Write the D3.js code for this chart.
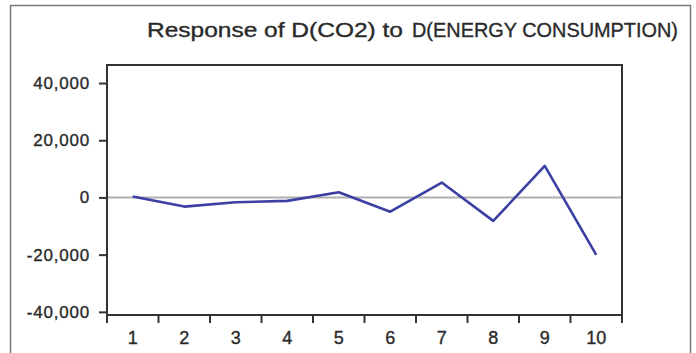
<!DOCTYPE html>
<html>
<head>
<meta charset="utf-8">
<script src="https://cdn.jsdelivr.net/npm/d3@7"></script>
<style>
  html, body { margin: 0; padding: 0; background: #fff; }
  svg { display: block; }
  text { font-family: "Liberation Sans", Arial, sans-serif; fill: #2a2a2a; stroke: #2a2a2a; stroke-width: 0.35px; }
</style>
</head>
<body>
<svg id="chart" width="696" height="353"></svg>
<script>
// Impulse response periods and values
const periods = [1, 2, 3, 4, 5, 6, 7, 8, 9, 10];
const response = [300, -3200, -1700, -1200, 1800, -5000, 5200, -8200, 11000, -20100];
const yTicks = [-40000, -20000, 0, 20000, 40000];
const titleMain = "Response of D(CO2) to";
const titleShock = "D(ENERGY CONSUMPTION)";

const svg = d3.select("#chart");
const frame = { left: 107, right: 622, top: 65, bottom: 315 };

// Outer panel border (top, left, right)
svg.append("path")
  .attr("d", "M10.5,353 V5.5 H690.5 V353")
  .attr("fill", "none")
  .attr("stroke", "#7a7a7a")
  .attr("stroke-width", 1.5);

// Title
const title = svg.append("text").attr("y", 37).attr("font-size", 21);
title.append("tspan").attr("x", 147).text(titleMain)
  .attr("textLength", 256).attr("lengthAdjust", "spacingAndGlyphs");
title.append("tspan").attr("x", 412).text(titleShock)
  .attr("textLength", 266).attr("lengthAdjust", "spacingAndGlyphs");

const x = d3.scaleBand().domain(periods).range([frame.left, frame.right]);
const y = d3.scaleLinear().domain([-41100, 46300]).range([frame.bottom, frame.top]);

// Zero reference line
svg.append("line")
  .attr("x1", frame.left).attr("x2", frame.right)
  .attr("y1", y(0)).attr("y2", y(0))
  .attr("stroke", "#b0b0b0").attr("stroke-width", 2);

// Response line
const line = d3.line()
  .x((d, i) => x(periods[i]) + x.bandwidth() / 2)
  .y(d => y(d));
svg.append("path")
  .datum(response)
  .attr("d", line)
  .attr("fill", "none")
  .attr("stroke", "#3b40a2")
  .attr("stroke-width", 2.6)
  .attr("stroke-linejoin", "round");

// Plot frame
svg.append("rect")
  .attr("x", frame.left).attr("y", frame.top)
  .attr("width", frame.right - frame.left).attr("height", frame.bottom - frame.top)
  .attr("fill", "none").attr("stroke", "#333").attr("stroke-width", 2);

// Y axis (hyphen as the minus sign)
const fmt = d3.format(",");
const yAxis = svg.append("g")
  .attr("transform", `translate(${frame.left},0)`)
  .call(d3.axisLeft(y).tickValues(yTicks).tickSize(8).tickPadding(9)
    .tickFormat(d => fmt(d).replace("\u2212", "-")));
yAxis.select(".domain").remove();
yAxis.selectAll("line").attr("stroke", "#333").attr("stroke-width", 2);
yAxis.selectAll("text").attr("font-size", 17).attr("letter-spacing", 0.8)
  .attr("fill", "#2a2a2a")
  .style("font-family", '"Liberation Sans", Arial, sans-serif');

// X axis: ticks on category boundaries, labels centred in each band
const bounds = periods.map(p => x(p)).concat([frame.right]);
const xAxisG = svg.append("g");
xAxisG.selectAll("line").data(bounds).join("line")
  .attr("x1", d => d).attr("x2", d => d)
  .attr("y1", frame.bottom).attr("y2", frame.bottom + 8)
  .attr("stroke", "#333").attr("stroke-width", 2);
xAxisG.selectAll("text").data(periods).join("text")
  .attr("x", d => x(d) + x.bandwidth() / 2)
  .attr("y", 344)
  .attr("text-anchor", "middle")
  .attr("font-size", 18)
  .text(d => d);
</script>
</body>
</html>
